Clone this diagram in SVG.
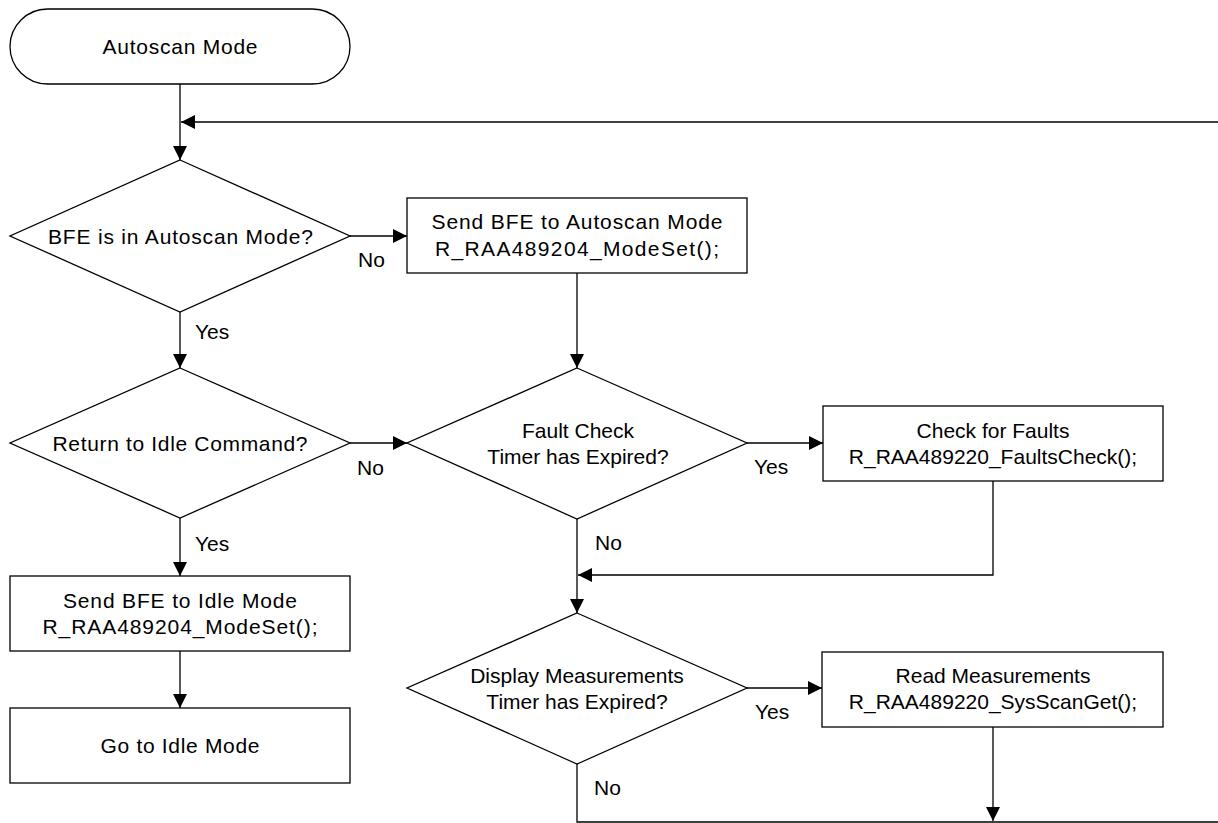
<svg xmlns="http://www.w3.org/2000/svg" width="1218" height="823" viewBox="0 0 1218 823">
<style>
.shape{fill:#fff;stroke:#000;stroke-width:1.3}
.conn{fill:none;stroke:#000;stroke-width:1.3}
text{font-family:"Liberation Sans",Arial,sans-serif;font-size:21px;fill:#000}
.c{text-anchor:middle}
</style>
<defs>
<marker id="ah" markerUnits="userSpaceOnUse" markerWidth="15" markerHeight="15" refX="14" refY="7" orient="auto">
<path d="M0,0 L14,7 L0,14 z" fill="#000"/>
</marker>
</defs>
<rect width="1218" height="823" fill="#fff"/>
<g id="connectors">
<path class="conn" d="M180,84 V160" marker-end="url(#ah)"/>
<path class="conn" d="M1218,122 H181" marker-end="url(#ah)"/>
<path class="conn" d="M350,236 H407" marker-end="url(#ah)"/>
<path class="conn" d="M180,312 V368" marker-end="url(#ah)"/>
<path class="conn" d="M577,273 V368" marker-end="url(#ah)"/>
<path class="conn" d="M350,443 H407" marker-end="url(#ah)"/>
<path class="conn" d="M747,443 H823" marker-end="url(#ah)"/>
<path class="conn" d="M180,518 V576" marker-end="url(#ah)"/>
<path class="conn" d="M180,651 V708" marker-end="url(#ah)"/>
<path class="conn" d="M993,481 V575 H578" marker-end="url(#ah)"/>
<path class="conn" d="M577,519 V613" marker-end="url(#ah)"/>
<path class="conn" d="M747,688 H822" marker-end="url(#ah)"/>
<path class="conn" d="M993,727 V821" marker-end="url(#ah)"/>
<path class="conn" d="M577,764 V822 H1218"/>
<text x="358" y="267">No</text>
<text x="195" y="339">Yes</text>
<text x="357" y="475">No</text>
<text x="754" y="474">Yes</text>
<text x="595" y="550">No</text>
<text x="195" y="551">Yes</text>
<text x="755" y="719">Yes</text>
<text x="594" y="795">No</text>
</g>
<g id="start">
<rect class="shape" x="10" y="9" width="340" height="75" rx="37.5" ry="37.5"/>
<text class="c" x="180" y="54" textLength="155" lengthAdjust="spacing">Autoscan Mode</text>
</g>
<g id="d_autoscan">
<polygon class="shape" points="180,160 350,236 180,312 10,236"/>
<text class="c" x="180.5" y="244" textLength="265" lengthAdjust="spacing">BFE is in Autoscan Mode?</text>
</g>
<g id="send_autoscan">
<rect class="shape" x="407" y="198" width="340" height="75"/>
<text class="c" x="577" y="229" textLength="291" lengthAdjust="spacing">Send BFE to Autoscan Mode</text>
<text class="c" x="577" y="256" textLength="284" lengthAdjust="spacing">R_RAA489204_ModeSet();</text>
</g>
<g id="d_idle_cmd">
<polygon class="shape" points="180,368 350,443 180,518 10,443"/>
<text class="c" x="180" y="451" textLength="255" lengthAdjust="spacing">Return to Idle Command?</text>
</g>
<g id="d_fault_timer">
<polygon class="shape" points="577,368 747,443 577,519 407,443"/>
<text class="c" x="578" y="438">Fault Check</text>
<text class="c" x="578" y="464">Timer has Expired?</text>
</g>
<g id="check_faults">
<rect class="shape" x="823" y="406" width="340" height="75"/>
<text class="c" x="993" y="438">Check for Faults</text>
<text class="c" x="993" y="464">R_RAA489220_FaultsCheck();</text>
</g>
<g id="send_idle">
<rect class="shape" x="10" y="576" width="340" height="75"/>
<text class="c" x="180" y="608" textLength="234" lengthAdjust="spacing">Send BFE to Idle Mode</text>
<text class="c" x="180" y="634" textLength="275" lengthAdjust="spacing">R_RAA489204_ModeSet();</text>
</g>
<g id="go_idle">
<rect class="shape" x="10" y="708" width="340" height="75"/>
<text class="c" x="180" y="753" textLength="159" lengthAdjust="spacing">Go to Idle Mode</text>
</g>
<g id="d_display_timer">
<polygon class="shape" points="577,613 747,688 577,764 407,688"/>
<text class="c" x="577" y="683">Display Measurements</text>
<text class="c" x="577" y="709">Timer has Expired?</text>
</g>
<g id="read_meas">
<rect class="shape" x="822" y="652" width="341" height="75"/>
<text class="c" x="993" y="683">Read Measurements</text>
<text class="c" x="993" y="709">R_RAA489220_SysScanGet();</text>
</g>
</svg>
